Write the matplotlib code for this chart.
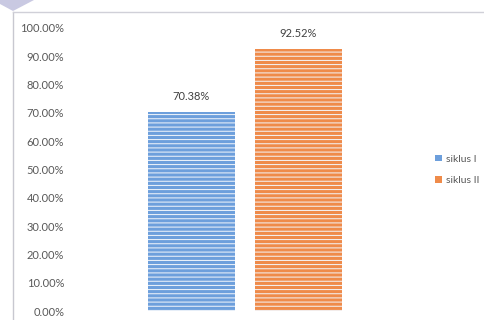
import matplotlib.pyplot as plt
from matplotlib.patches import Polygon, Patch
from matplotlib.lines import Line2D

# data
series = ["siklus I", "siklus II"]
values = [0.7038, 0.9252]
labels = ["70.38%", "92.52%"]
colors = ["#6d9fdc", "#ef8b4a"]
yticks = [i / 10 for i in range(11)]

plt.rcParams['font.family'] = ['Lato', 'DejaVu Sans']
plt.rcParams['hatch.color'] = '#f4f7fc'
plt.rcParams['hatch.linewidth'] = 0.7

W, H = 484, 320
fig = plt.figure(figsize=(W / 100, H / 100), dpi=100)

# frame lines and corner decoration, in figure pixels
fig.add_artist(Line2D([13 / W, 13 / W], [0, 1 - 12 / H], transform=fig.transFigure,
                      color="#c8c8d0", lw=1))
fig.add_artist(Line2D([13 / W, 1], [1 - 12 / H, 1 - 12 / H], transform=fig.transFigure,
                      color="#d0d0d8", lw=1))
fig.add_artist(Polygon([(0, 1), (34 / W, 1), (13 / W, 1 - 11 / H), (0, 1 - 4 / H)],
                       closed=True, transform=fig.transFigure,
                       facecolor="#c9c9e2", edgecolor="none"))

left, right = 60, 430
bottom, top = 311, 28
ax = fig.add_axes([left / W, 1 - bottom / H, (right - left) / W, (bottom - top) / H])

unit = 107
center = 245
xlo = 0.5 - (center - left) / unit
xhi = 0.5 + (right - center) / unit

x = list(range(len(series)))
bars = ax.bar(x, values, width=0.81, color=colors, hatch="----", linewidth=0)
for b in bars:
    b.set_edgecolor("#f4f7fc")
    b.set_linewidth(0)

for xi, v, lab in zip(x, values, labels):
    ax.text(xi, v + 0.035, lab, ha="center", va="bottom", fontsize=8, color="#404040")

ax.set_xlim(xlo, xhi)
ax.set_ylim(0, 1)
ax.set_yticks(yticks)
ax.set_yticklabels(["%.2f%%" % (t * 100) for t in yticks], fontsize=8, color="#595959")
ax.tick_params(axis="y", length=0, pad=-3)
ax.set_xticks([])
for s in ax.spines.values():
    s.set_visible(False)

handles = [Patch(facecolor=c, edgecolor="none") for c in colors]
fig.legend(handles, series, loc="center left", bbox_to_anchor=(426 / W, 1 - 170 / H),
           frameon=False, fontsize=7.5, labelcolor="#595959", handlelength=0.6,
           handleheight=0.6, handletextpad=0.4, labelspacing=1.2)

fig.savefig("out.png", dpi=100)
